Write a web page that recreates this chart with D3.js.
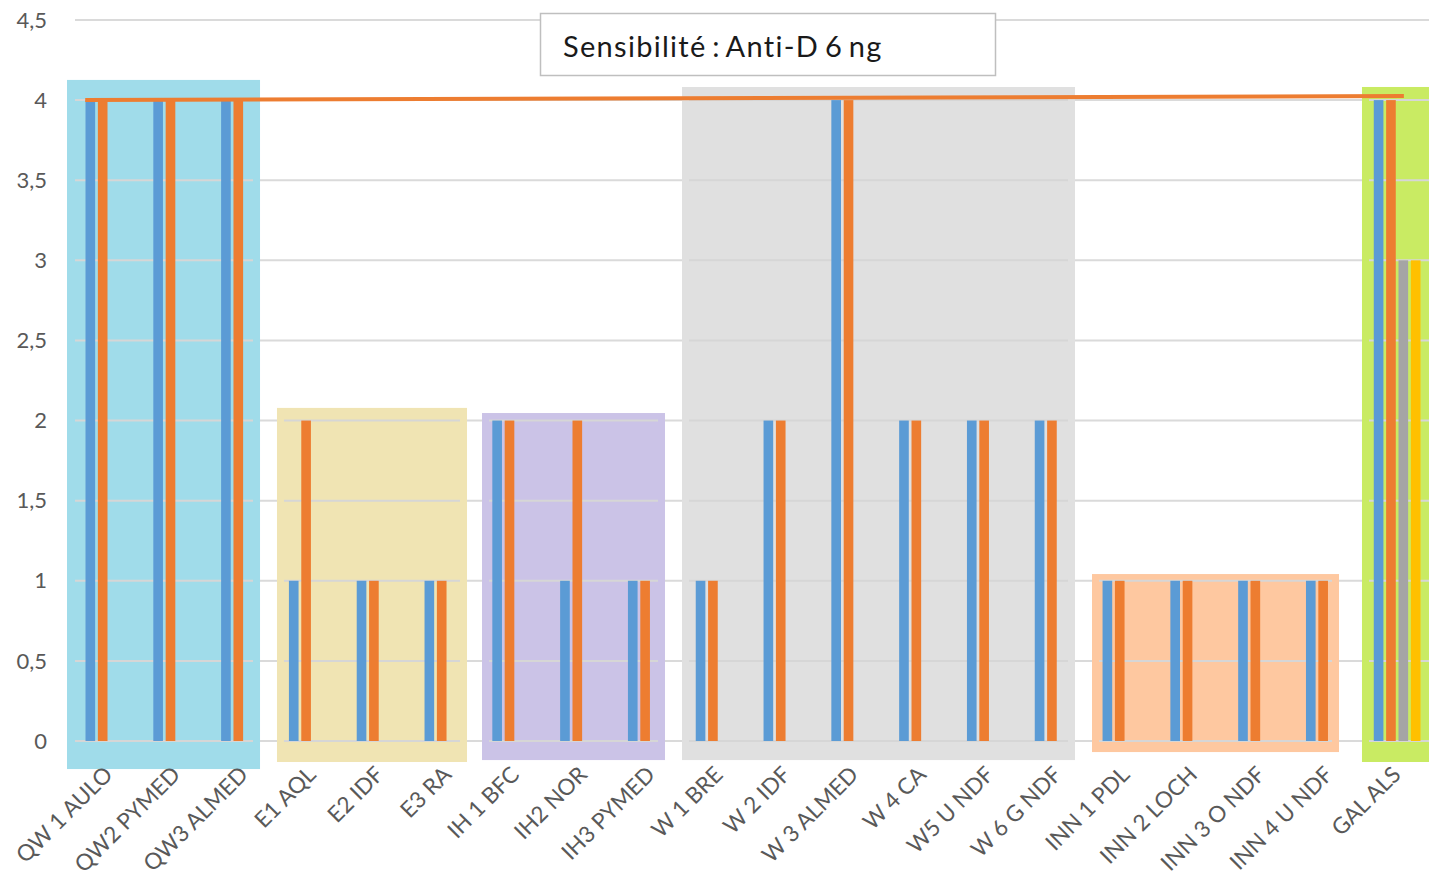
<!DOCTYPE html>
<html>
<head>
	<meta charset="utf-8">
	<title>Sensibilité Anti-D 6 ng</title>
	<script src="https://d3js.org/d3.v7.min.js"></script>
	<style>
		html, body {
			margin: 0;
			background: white;
		}
		svg text {
			font-family: Lato, "Open Sans", sans-serif;
		}
	</style>
</head>
<body>
	<svg id="svg"></svg>
	<script>
		// data
		const categories = [
			"QW 1 AULO", "QW2 PYMED", "QW3 ALMED", "E1 AQL", "E2 IDF", "E3 RA",
			"IH 1 BFC", "IH2 NOR", "IH3 PYMED", "W 1 BRE", "W 2 IDF", "W 3 ALMED",
			"W 4 CA", "W5 U NDF", "W 6 G NDF", "INN 1 PDL", "INN 2 LOCH",
			"INN 3 O NDF", "INN 4 U NDF", "GAL ALS"
		];
		const seriesNames = ["Série1", "Série2", "Série3", "Série4"];
		const serie1 = [4, 4, 4, 1, 1, 1, 2, 1, 1, 1, 2, 4, 2, 2, 2, 1, 1, 1, 1, 4];
		const serie2 = [4, 4, 4, 2, 1, 1, 2, 2, 1, 1, 2, 4, 2, 2, 2, 1, 1, 1, 1, 4];
		const serie3 = [null, null, null, null, null, null, null, null, null, null,
			null, null, null, null, null, null, null, null, null, 3];
		const serie4 = [null, null, null, null, null, null, null, null, null, null,
			null, null, null, null, null, null, null, null, null, 3];
		const yTicks = [0, 0.5, 1, 1.5, 2, 2.5, 3, 3.5, 4, 4.5];
		const title = "Sensibilité : Anti-D 6 ng";

		// threshold line drawn over the chart (category units, value units)
		const thresholdFrom = [0.15, 4.0];
		const thresholdTo = [19.6, 4.025];

		// coloured boxes behind the groups (category units / value units)
		const boxes = [
			{ from: -0.118, to: 2.729, top: 4.126, bottom: -0.175, color: "#a0dcea" },
			{ from: 2.979, to: 5.782, top: 2.079, bottom: -0.131, color: "#f0e4b3" },
			{ from: 6.003, to: 8.702, top: 2.047, bottom: -0.119, color: "#cbc3e7" },
			{ from: 8.953, to: 14.749, top: 4.082, bottom: -0.119, color: "#e0e0e0" },
			{ from: 15.0, to: 18.643, top: 1.042, bottom: -0.069, color: "#fec8a0" },
			{ from: 18.982, to: 20.2, top: 4.082, bottom: -0.131, color: "#c9eb63" }
		];

		const colors = ["#5b9bd5", "#ed7d31", "#a5a5a5", "#ffc000"];

		const W = 1429, H = 881;
		const plot = { left: 75, right: 1431, top: 20, bottom: 741 };

		const svg = d3.select("#svg")
		.attr("width", W)
		.attr("height", H);

		const table = categories.map((c, i) => ({
			cat: c,
			values: [serie1[i], serie2[i], serie3[i], serie4[i]]
		}));

		const x0 = d3.scaleBand()
		.domain(categories)
		.range([plot.left, plot.right])
		.paddingInner(0.311)
		.paddingOuter(0.155);

		const x1 = d3.scaleBand()
		.domain(seriesNames)
		.range([0, x0.bandwidth()])
		.paddingInner(0.22)
		.paddingOuter(0);

		// continuous version of the category axis for the drawn shapes
		const xIdx = d3.scaleLinear()
		.domain([0, categories.length])
		.range([plot.left, plot.right]);

		const y = d3.scaleLinear()
		.domain([0, 4.5])
		.range([plot.bottom, plot.top]);

		const fr = d3.formatLocale({ decimal: ",", thousands: " ", grouping: [3], currency: ["", " €"] });
		const fmt = fr.format(".1~f");

		// gridlines
		const grid = svg.append("g");
		grid.selectAll("line")
		.data(yTicks)
		.enter()
		.append("line")
		.attr("x1", plot.left)
		.attr("x2", W)
		.attr("y1", d => y(d))
		.attr("y2", d => y(d))
		.attr("stroke", "#dadada")
		.attr("stroke-width", 2);

		// group boxes
		const boxG = svg.append("g");
		boxG.selectAll("rect")
		.data(boxes)
		.enter()
		.append("rect")
		.attr("x", d => xIdx(d.from))
		.attr("y", d => y(d.top))
		.attr("width", d => xIdx(d.to) - xIdx(d.from))
		.attr("height", d => y(d.bottom) - y(d.top))
		.attr("fill", d => d.color);

		// gridlines again inside each box, a little inset
		boxes.forEach(b => {
			const inside = yTicks.filter(t => t <= b.top && t >= b.bottom);
			boxG.append("g")
			.selectAll("line")
			.data(inside)
			.enter()
			.append("line")
			.attr("x1", Math.max(plot.left, xIdx(b.from) + 7))
			.attr("x2", Math.min(W, xIdx(b.to) - 7))
			.attr("y1", d => y(d))
			.attr("y2", d => y(d))
			.attr("stroke", "#d6d6d6")
			.attr("stroke-width", 2);
		});

		// bars
		svg.append("g")
		.selectAll("g")
		.data(table)
		.enter()
		.append("g")
		.attr("transform", d => `translate(${x0(d.cat)},0)`)
		.selectAll("rect")
		.data(d => d.values.map((v, k) => ({ key: seriesNames[k], k: k, v: v })).filter(e => e.v != null))
		.enter()
		.append("rect")
		.attr("x", d => x1(d.key))
		.attr("y", d => y(d.v))
		.attr("width", x1.bandwidth())
		.attr("height", d => y(0) - y(d.v))
		.attr("fill", d => colors[d.k]);

		// orange threshold line
		svg.append("line")
		.attr("x1", xIdx(thresholdFrom[0]))
		.attr("y1", y(thresholdFrom[1]))
		.attr("x2", xIdx(thresholdTo[0]))
		.attr("y2", y(thresholdTo[1]))
		.attr("stroke", "#ed7d31")
		.attr("stroke-width", 4);

		// y axis labels
		svg.append("g")
		.selectAll("text")
		.data(yTicks)
		.enter()
		.append("text")
		.attr("x", 47)
		.attr("y", d => y(d))
		.attr("dy", "0.35em")
		.attr("text-anchor", "end")
		.attr("fill", "#595959")
		.attr("font-size", 22)
		.text(d => fmt(d));

		// x axis labels, rotated
		svg.append("g")
		.selectAll("text")
		.data(categories)
		.enter()
		.append("text")
		.attr("text-anchor", "end")
		.attr("fill", "#595959")
		.attr("font-size", 22.5)
		.attr("transform", d => `translate(${x0(d) + x0.bandwidth() / 2 + 5},${plot.bottom + 35}) rotate(-45)`)
		.text(d => d);

		// title box
		svg.append("rect")
		.attr("x", 540.5)
		.attr("y", 13.5)
		.attr("width", 455)
		.attr("height", 62)
		.attr("fill", "white")
		.attr("stroke", "#bfbfbf")
		.attr("stroke-width", 1.5);

		svg.append("text")
		.attr("x", 563)
		.attr("y", 57)
		.attr("fill", "#1a1a1a")
		.attr("font-size", 29)
		.attr("letter-spacing", 1.3)
		.attr("word-spacing", -3)
		.text(title);
	</script>
</body>
</html>
